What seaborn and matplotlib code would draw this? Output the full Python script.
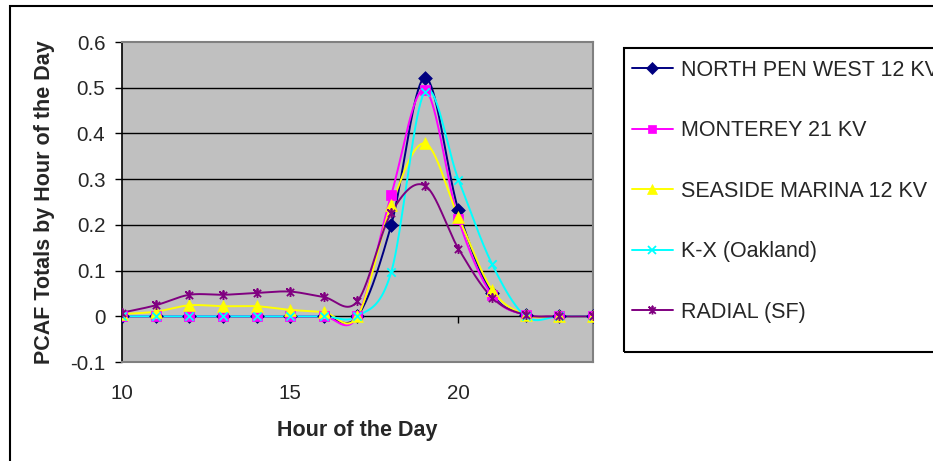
import numpy as np
import matplotlib
matplotlib.use("Agg")
import matplotlib.pyplot as plt
from matplotlib.lines import Line2D
from matplotlib.patches import Rectangle
from matplotlib.path import Path
import seaborn as sns

# ---- data ----
hours = [10, 11, 12, 13, 14, 15, 16, 17, 18, 19, 20, 21, 22, 23, 24]
north_pen_west = [0, 0, 0, 0, 0, 0, 0, 0, 0.199, 0.522, 0.232, 0.050, 0.003, 0, 0]
monterey = [0, 0, 0, 0, 0, 0, 0, 0, 0.265, 0.496, 0.212, 0.046, 0.003, 0, 0]
seaside_marina = [0.005, 0.010, 0.024, 0.022, 0.022, 0.014, 0.009, 0, 0.243, 0.378, 0.217, 0.058, 0.003, 0, 0]
kx_oakland = [0, 0, 0, 0, 0, 0, 0, 0, 0.096, 0.491, 0.299, 0.114, 0, 0, 0]
radial_sf = [0.008, 0.024, 0.047, 0.047, 0.051, 0.054, 0.042, 0.033, 0.226, 0.286, 0.148, 0.041, 0.003, 0, 0]

series_names = ["NORTH PEN WEST 12 KV", "MONTEREY 21 KV", "SEASIDE MARINA 12 KV",
                "K-X (Oakland)", "RADIAL (SF)"]
series_values = [north_pen_west, monterey, seaside_marina, kx_oakland, radial_sf]
series_colors = ["#000080", "#FF00FF", "#FFFF00", "#00FFFF", "#800080"]

y_ticks = [-0.1, 0, 0.1, 0.2, 0.3, 0.4, 0.5, 0.6]
y_tick_labels = ["-0.1", "0", "0.1", "0.2", "0.3", "0.4", "0.5", "0.6"]
x_ticks = [10, 15, 20]
x_tick_labels = ["10", "15", "20"]

# asterisk marker: an "x" with a vertical stroke through it
ASTERISK = [(-1, -1), (1, 1), (0, 0), (-1, 1), (1, -1), (0, 0), (0, 1.25), (0, -1.25), (0, 0)]
asterisk_path = Path(ASTERISK, [Path.MOVETO, Path.LINETO, Path.MOVETO, Path.LINETO, Path.LINETO,
                                Path.MOVETO, Path.LINETO, Path.LINETO, Path.MOVETO])
series_markers = ["D", "s", "^", "x", asterisk_path]
marker_sizes = [7, 6.5, 8.5, 6, 6.5]


def is_stroke_marker(m):
    return (isinstance(m, str) and m == "x") or m is asterisk_path


def smooth_curve(x, y, per_seg=40):
    """Cardinal (Catmull-Rom style) Bezier smoothing through the points."""
    x = np.asarray(x, float)
    y = np.asarray(y, float)
    n = len(x)
    px = np.concatenate([[x[0]], x, [x[-1]]])
    py = np.concatenate([[y[0]], y, [y[-1]]])
    xs, ys = [], []
    for i in range(n - 1):
        p0 = np.array([px[i + 1], py[i + 1]])
        p3 = np.array([px[i + 2], py[i + 2]])
        p1 = p0 + (np.array([px[i + 2], py[i + 2]]) - np.array([px[i], py[i]])) / 6.0
        p2 = p3 - (np.array([px[i + 3], py[i + 3]]) - np.array([px[i + 1], py[i + 1]])) / 6.0
        last = i == n - 2
        t = np.linspace(0, 1, per_seg, endpoint=last)[:, None]
        pts = ((1 - t) ** 3) * p0 + 3 * ((1 - t) ** 2) * t * p1 + 3 * (1 - t) * t ** 2 * p2 + t ** 3 * p3
        xs.append(pts[:, 0])
        ys.append(pts[:, 1])
    return np.concatenate(xs), np.concatenate(ys)


sns.set_style("white")
plt.rcParams["font.family"] = ["Liberation Sans", "DejaVu Sans"]

fig = plt.figure(figsize=(9.33, 4.61), dpi=100)
W, H = 933, 461
L, R, T, B = 122, 593, 42, 362
ax = fig.add_axes([L / W, 1 - B / H, (R - L) / W, (B - T) / H])
ax.set_facecolor("#C0C0C0")

# horizontal gridlines (black) including the zero axis
for v in [0, 0.1, 0.2, 0.3, 0.4, 0.5]:
    ax.axhline(v, color="black", lw=1.0, zorder=1)
# category tick marks hanging off the zero line
ax.vlines(x_ticks, -0.014, 0, color="black", lw=1.0, zorder=1)

for name, vals, col, mk, ms in zip(series_names, series_values, series_colors,
                                   series_markers, marker_sizes):
    sx, sy = smooth_curve(hours, vals)
    sns.lineplot(x=sx, y=sy, color=col, lw=1.4, ax=ax, estimator=None, sort=False, zorder=3)
    sns.scatterplot(x=hours, y=vals, marker=mk, s=ms ** 2, color=col, edgecolor=col,
                    linewidth=1.3 if is_stroke_marker(mk) else 0.5, ax=ax, zorder=4)

ax.set_xlim(10, 24)
ax.set_ylim(-0.1, 0.6)
ax.set_yticks(y_ticks)
ax.set_yticklabels(y_tick_labels)
ax.set_xticks(x_ticks)
ax.set_xticklabels(x_tick_labels)
ax.tick_params(axis="y", which="major", left=True, length=5, width=1.0, color="black",
               pad=7, labelsize=14.8)
ax.tick_params(axis="x", which="major", bottom=False, length=0, pad=16, labelsize=14.8)

for side in ["top", "right", "bottom"]:
    ax.spines[side].set_color("#808080")
    ax.spines[side].set_linewidth(1.5)
ax.spines["left"].set_color("black")
ax.spines["left"].set_linewidth(1.2)

ax.set_xlabel("Hour of the Day", fontsize=15.5, fontweight="bold")
ax.xaxis.label.set_va("center")
ax.xaxis.set_label_coords(0.5, -(430 - B) / (B - T))
ax.set_ylabel("PCAF Totals by Hour of the Day", fontsize=15.5, fontweight="bold")
ax.yaxis.label.set_va("center")
ax.yaxis.set_label_coords((45 - L) / (R - L), 0.5)

# legend
handles = [Line2D([0], [0], color=c, lw=1.4, marker=m, markersize=ms * 0.9,
                  markerfacecolor=c, markeredgecolor=c,
                  markeredgewidth=1.3 if is_stroke_marker(m) else 0.5)
           for c, m, ms in zip(series_colors, series_markers, marker_sizes)]
leg = fig.legend(handles, series_names, loc="upper left",
                 bbox_to_anchor=(632 / W, 1 - 60 / H), bbox_transform=fig.transFigure,
                 frameon=False, borderpad=0, borderaxespad=0, fontsize=15.5,
                 handlelength=1.9, handletextpad=0.37, labelspacing=1.83)

fig.patches.append(Rectangle((624 / W, 1 - 352 / H), 0.5, (352 - 48) / H,
                             transform=fig.transFigure, fill=False, edgecolor="black",
                             lw=1.5, clip_on=False))
# chart outer frame
fig.patches.append(Rectangle((10 / W, -0.5), 1.2, 1.5 - 6 / H,
                             transform=fig.transFigure, fill=False, edgecolor="black",
                             lw=1.5, clip_on=False))

fig.savefig("out.png", dpi=100)
